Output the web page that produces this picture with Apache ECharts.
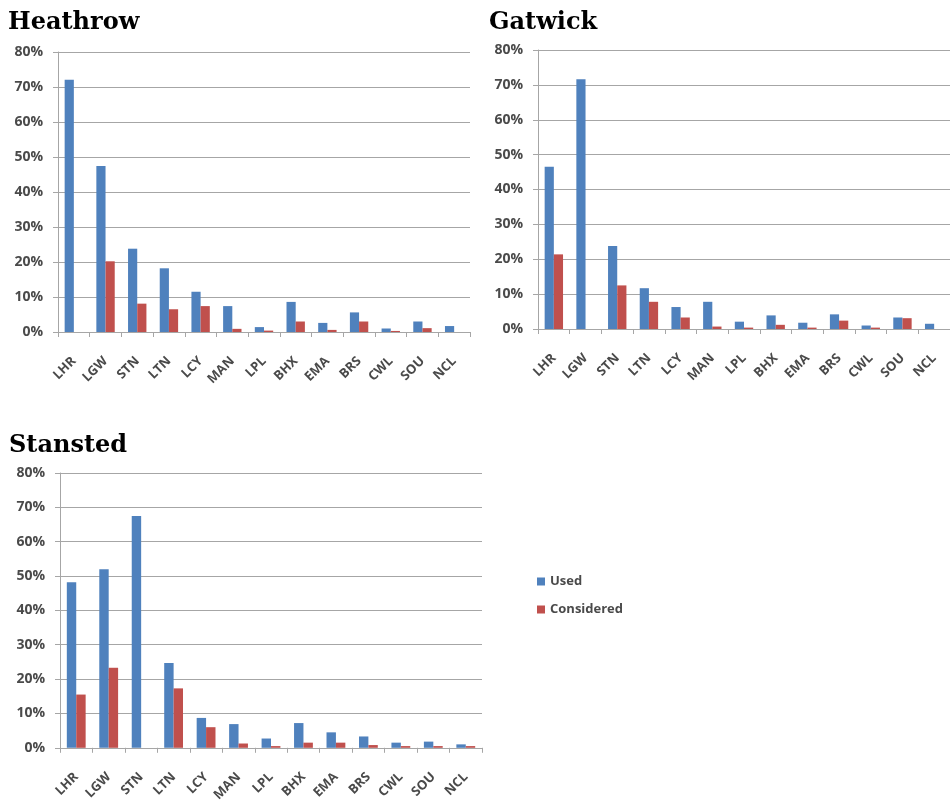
<!DOCTYPE html>
<html>
<head>
<meta charset="utf-8">
<script src="https://cdn.jsdelivr.net/npm/echarts@6/dist/echarts.min.js"></script>
<style>
html,body{margin:0;padding:0;background:#fff;}
#chart{width:950px;height:804px;}
</style>
</head>
<body>
<div id="chart"></div>
<script>
var categories = ['LHR','LGW','STN','LTN','LCY','MAN','LPL','BHX','EMA','BRS','CWL','SOU','NCL'];
var yTicks = [0,10,20,30,40,50,60,70,80];

var heathrowUsed       = [72.1, 47.4, 23.8, 18.2, 11.5, 7.4, 1.4, 8.6, 2.6, 5.6, 1.0, 3.0, 1.7];
var heathrowConsidered = [0,    20.2,  8.1,  6.5,  7.4, 0.9, 0.4, 3.0, 0.6, 3.0, 0.3, 1.1, 0];

var gatwickUsed        = [46.5, 71.6, 23.8, 11.7, 6.3, 7.8, 2.1, 3.9, 1.8, 4.2, 1.0, 3.3, 1.5];
var gatwickConsidered  = [21.4, 0,    12.5,  7.8, 3.3, 0.7, 0.4, 1.2, 0.4, 2.4, 0.4, 3.1, 0];

var stanstedUsed       = [48.2, 52.0, 67.5, 24.7, 8.7, 6.9, 2.7, 7.2, 4.5, 3.3, 1.5, 1.8, 1.0];
var stanstedConsidered = [15.5, 23.3, 0,    17.3, 6.0, 1.25, 0.5, 1.5, 1.5, 0.8, 0.5, 0.5, 0.5];

var titles = ['Heathrow','Gatwick','Stansted'];
var seriesNames = ['Used','Considered'];

var BLUE = '#4F81BD', RED = '#C0504D';
var GRIDC = '#a6a6a6';
var LABELC = '#4a4a4a';
var SANS = 'Open Sans';

var grids = [
  {left: 58, width: 412, top: 52, height: 280},
  {left: 538, width: 422, top: 50, height: 279},
  {left: 60, width: 422, top: 473, height: 277}
];

function xAxis(i){
  return {
    type:'category', gridIndex:i, data:categories,
    axisLine:{lineStyle:{color:GRIDC}},
    axisTick:{show:true, length:5, lineStyle:{color:GRIDC}},
    axisLabel:{rotate:45, margin:27, color:LABELC, fontFamily:SANS, fontSize:13, fontWeight:'bold', interval:0}
  };
}
function yAxis(i){
  return {
    type:'value', gridIndex:i, min:yTicks[0], max:yTicks[yTicks.length-1], interval:10,
    axisLine:{show:true, lineStyle:{color:GRIDC}},
    axisTick:{show:true, length:5, lineStyle:{color:GRIDC}},
    splitLine:{lineStyle:{color:GRIDC, width:1}},
    axisLabel:{formatter:'{value}%', color:LABELC, fontFamily:SANS, fontSize:14, fontWeight:'bold', margin:15}
  };
}
var allData = [[heathrowUsed, heathrowConsidered],[gatwickUsed, gatwickConsidered],[stanstedUsed, stanstedConsidered]];
var series = [];
allData.forEach(function(pair, i){
  series.push({name:seriesNames[0], type:'bar', xAxisIndex:i, yAxisIndex:i, data:pair[0],
    itemStyle:{color:BLUE}, barGap:'0%', barCategoryGap:'42%'});
  series.push({name:seriesNames[1], type:'bar', xAxisIndex:i, yAxisIndex:i, data:pair[1],
    itemStyle:{color:RED}, barGap:'0%', barCategoryGap:'42%'});
});

var titleStyle = {fontFamily:'DejaVu Serif', fontWeight:'bold', fontSize:24, color:'#000'};
var chart = echarts.init(document.getElementById('chart'), null, {renderer:'canvas'});
chart.setOption({
  backgroundColor:'#fff',
  animation:false,
  title:[
    {text:titles[0], left:3, top:6, textStyle:titleStyle},
    {text:titles[1], left:484, top:6, textStyle:titleStyle},
    {text:titles[2], left:4, top:429, textStyle:titleStyle}
  ],
  legend:{
    data:seriesNames, orient:'vertical', left:532, top:570, itemWidth:8, itemHeight:8,
    itemGap:15, icon:'rect',
    textStyle:{color:LABELC, fontFamily:SANS, fontSize:13, fontWeight:'bold'}
  },
  grid:grids,
  xAxis:[xAxis(0), xAxis(1), xAxis(2)],
  yAxis:[yAxis(0), yAxis(1), yAxis(2)],
  series:series
});
</script>
</body>
</html>
